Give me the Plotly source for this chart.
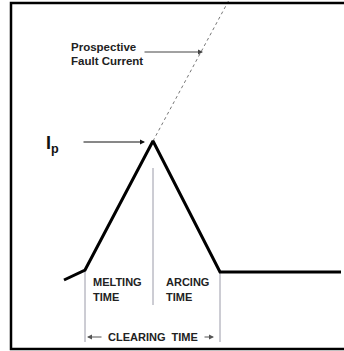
import plotly.graph_objects as go

# Fuse current trace (x: time position, y: current level), image-like units
time_pts = [64, 85, 153, 220, 341]
current_pts = [71, 81, 210, 79, 79]

# Prospective fault current (dashed extension of the rising slope)
prosp_time = [153, 229]
prosp_current = [210, 351]

# Boundaries of melting / arcing / clearing intervals
melt_start = 85
arc_start = 153
clear_end = 220

W, H = 344, 351
fig = go.Figure()

# vertical guide lines
fig.add_trace(go.Scatter(x=[melt_start, melt_start], y=[81, 9], mode="lines",
                         line=dict(color="#9a9aa8", width=1), hoverinfo="skip"))
fig.add_trace(go.Scatter(x=[arc_start, arc_start], y=[183, 46], mode="lines",
                         line=dict(color="#9a9aa8", width=1), hoverinfo="skip"))
fig.add_trace(go.Scatter(x=[clear_end, clear_end], y=[79, 9], mode="lines",
                         line=dict(color="#9a9aa8", width=1), hoverinfo="skip"))

fig.add_trace(go.Scatter(x=prosp_time, y=prosp_current, mode="lines",
                         line=dict(color="#777777", width=1, dash="dot"), hoverinfo="skip"))
fig.add_trace(go.Scatter(x=time_pts, y=current_pts, mode="lines",
                         line=dict(color="black", width=3), hoverinfo="skip"))


def txt(x, y, s, size=11):
    fig.add_annotation(x=x, y=y, text=s, showarrow=False, xanchor="left", yanchor="middle",
                       font=dict(family="Liberation Sans, Arial", size=size, color="#222222"),
                       align="left")

txt(69, 304, "<b>Prospective</b>", 11.5)
txt(69, 290, "<b>Fault Current</b>", 11.5)
txt(91, 69, "<b>MELTING</b>")
txt(91, 54, "<b>TIME</b>")
txt(164, 69, "<b>ARCING</b>")
txt(164, 54, "<b>TIME</b>")
txt(106, 14, "<b>CLEARING  TIME</b>")
fig.add_annotation(x=44, y=207, text="<b>I<sub>p</sub></b>", showarrow=False, xanchor="left",
                   yanchor="middle", font=dict(family="Liberation Sans, Arial", size=18, color="#111111"))


def arrow(x0, y0, x1, y1, color):
    fig.add_annotation(x=x1, y=y1, ax=x0, ay=y0, axref="x", ayref="y", xref="x", yref="y",
                       text="", showarrow=True, arrowhead=2, arrowsize=1, arrowwidth=1,
                       arrowcolor=color)

arrow(143, 299, 203, 299, "#444444")
arrow(82, 209, 145, 209, "#111111")
arrow(103, 14, 87, 14, "#555555")
arrow(203, 14, 214, 14, "#555555")

# frame
fig.add_shape(type="rect", x0=11, x1=360, y0=2, y1=348, xref="x", yref="y",
              line=dict(color="black", width=2.5))

fig.update_layout(width=W, height=H, margin=dict(l=0, r=0, t=0, b=0),
                  plot_bgcolor="white", paper_bgcolor="white", showlegend=False,
                  xaxis=dict(range=[0, W], visible=False, fixedrange=True),
                  yaxis=dict(range=[0, H], visible=False, fixedrange=True))
fig.write_html("out.html", config={"displayModeBar": False},
               post_script="document.body.style.margin='0';")
